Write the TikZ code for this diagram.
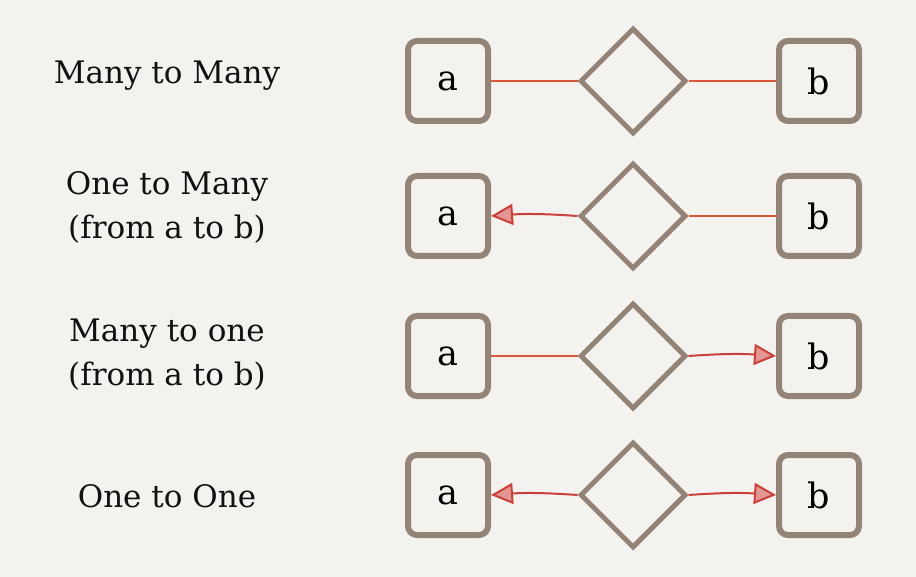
\documentclass[tikz,border=0pt]{standalone}
\usepackage{fontspec}
\setmainfont{DejaVu Serif}
\usetikzlibrary{shapes.geometric}
\usetikzlibrary{arrows.meta}
\definecolor{color_er_bg}{HTML}{F4F2EE}
\definecolor{color_er_entity}{HTML}{938477}
\definecolor{color_er_line}{HTML}{D9573A}
\definecolor{color_er_tip}{HTML}{C9403A}
\definecolor{color_er_text}{HTML}{111111}
\def\erlinewidth{2pt}
\def\erlabelx{167}
\def\erentitysize{\fontsize{35}{40}\selectfont}
\def\erlabelsize{\fontsize{31}{44}\selectfont}
\tikzset{
    entity/.style={draw=color_er_entity, line width=6pt, rounded corners=9pt,
        minimum size=80pt, inner sep=0pt, font=\erentitysize},
    relation/.style={diamond, draw=color_er_entity, line width=5pt,
        minimum size=106pt, inner sep=0pt},
    erlabel/.style={align=center, font=\erlabelsize, text=color_er_text},
    erline/.style={draw=color_er_line, line width=\erlinewidth},
    erone/.style={draw=color_er_tip, line width=\erlinewidth,
        -{Triangle[length=22pt,width=21pt,fill=color_er_tip!55]}}
}

\begin{document}
\begin{tikzpicture}[x=1pt,y=-1pt]
        \fill[color_er_bg] (0,0) rectangle (916,577);
        \useasboundingbox (0,0) rectangle (916,577);
        % entities and relations
        \foreach \row/\y in {1/81,2/216,3/356,4/495}{
            \node[entity] (a\row) at (448,\y) {a};
            \node[relation] (r\row) at (633,\y) {};
            \node[entity] (b\row) at (819,\y) {b};
        }
        % connectors
        \draw[erline] (r1.west) -- (a1.east);
        \draw[erline] (r1.east) -- (b1.west);
        \draw[erone] (r2.west) to[bend right=4] (a2.east);
        \draw[erline] (r2.east) -- (b2.west);
        \draw[erline] (r3.west) -- (a3.east);
        \draw[erone] (r3.east) to[bend left=4] (b3.west);
        \draw[erone] (r4.west) to[bend right=4] (a4.east);
        \draw[erone] (r4.east) to[bend left=4] (b4.west);
        % labels
        \node[erlabel] (l1) at (\erlabelx,76) {Many to Many};
        \node[erlabel] (l2) at (\erlabelx,207) {One to Many\\(from a to b)};
        \node[erlabel] (l3) at (\erlabelx,355) {Many to one\\(from a to b)};
        \node[erlabel] (l4) at (\erlabelx,496) {One to One};
    \end{tikzpicture}
\end{document}
